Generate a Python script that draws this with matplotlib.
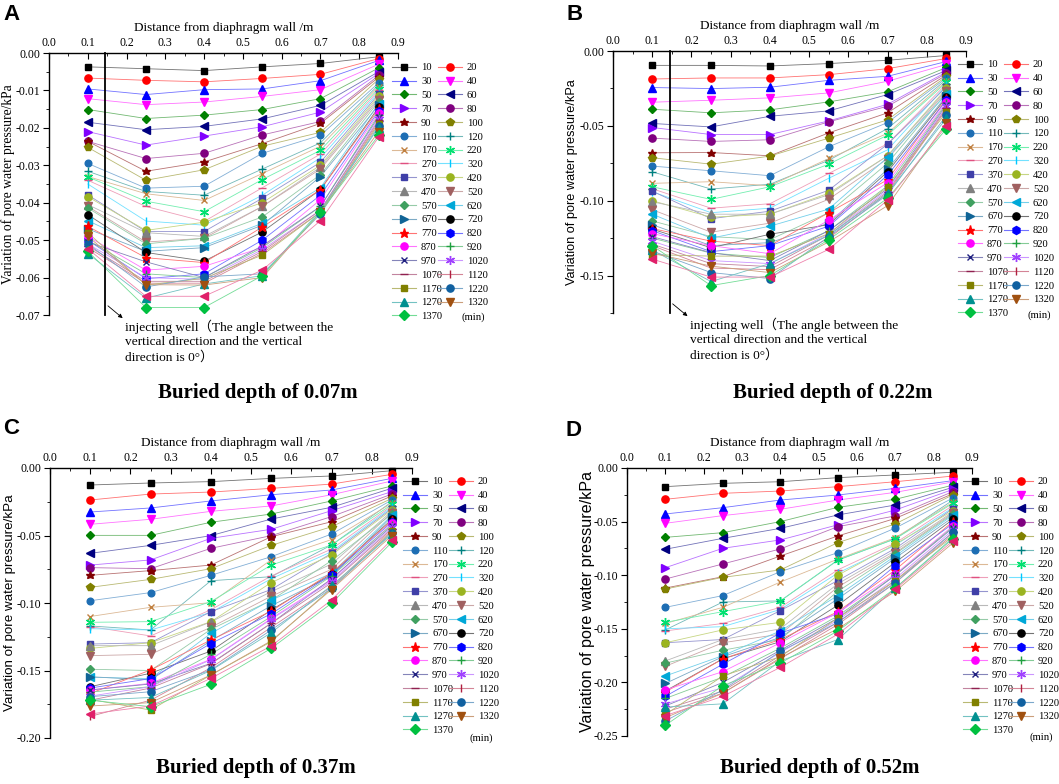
import matplotlib
matplotlib.use('Agg')
import matplotlib.pyplot as plt
from matplotlib.lines import Line2D
from matplotlib.ticker import MultipleLocator, FormatStrFormatter
from matplotlib.colors import to_rgb

plt.rcParams['axes.unicode_minus'] = False

# ---------------- data ----------------
distance = [0.1, 0.25, 0.4, 0.55, 0.7, 0.85]
times = ['10', '20', '30', '40', '50', '60', '70', '80', '90', '100', '110', '120',
         '170', '220', '270', '320', '370', '420', '470', '520', '570', '620', '670',
         '720', '770', '820', '870', '920', '970', '1020', '1070', '1120', '1170',
         '1220', '1270', '1320', '1370', '_extra']
time_unit = '(min)'

depth_07 = [
    [-0.0037, -0.0042, -0.0047, -0.0037, -0.0028, -0.0010],
    [-0.0067, -0.0073, -0.0077, -0.0068, -0.0057, -0.0015],
    [-0.0096, -0.0111, -0.0098, -0.0096, -0.0074, -0.0020],
    [-0.0122, -0.0138, -0.0131, -0.0116, -0.0098, -0.0030],
    [-0.0151, -0.0175, -0.0166, -0.0151, -0.0122, -0.0040],
    [-0.0185, -0.0205, -0.0196, -0.0176, -0.0140, -0.0050],
    [-0.0210, -0.0246, -0.0222, -0.0197, -0.0158, -0.0055],
    [-0.0236, -0.0282, -0.0268, -0.0219, -0.0183, -0.0060],
    [-0.0236, -0.0316, -0.0291, -0.0242, -0.0188, -0.0065],
    [-0.0252, -0.0340, -0.0312, -0.0249, -0.0212, -0.0070],
    [-0.0295, -0.0361, -0.0356, -0.0268, -0.0220, -0.0080],
    [-0.0316, -0.0370, -0.0380, -0.0310, -0.0240, -0.0085],
    [-0.0330, -0.0376, -0.0394, -0.0322, -0.0249, -0.0090],
    [-0.0331, -0.0396, -0.0424, -0.0338, -0.0260, -0.0095],
    [-0.0340, -0.0410, -0.0450, -0.0360, -0.0270, -0.0100],
    [-0.0350, -0.0449, -0.0460, -0.0380, -0.0280, -0.0105],
    [-0.0379, -0.0477, -0.0477, -0.0388, -0.0292, -0.0110],
    [-0.0384, -0.0474, -0.0452, -0.0400, -0.0300, -0.0115],
    [-0.0405, -0.0480, -0.0490, -0.0410, -0.0305, -0.0120],
    [-0.0410, -0.0505, -0.0495, -0.0410, -0.0310, -0.0125],
    [-0.0414, -0.0510, -0.0495, -0.0438, -0.0325, -0.0130],
    [-0.0448, -0.0520, -0.0515, -0.0455, -0.0360, -0.0135],
    [-0.0470, -0.0530, -0.0520, -0.0460, -0.0330, -0.0140],
    [-0.0432, -0.0533, -0.0556, -0.0478, -0.0365, -0.0145],
    [-0.0463, -0.0547, -0.0560, -0.0465, -0.0365, -0.0150],
    [-0.0500, -0.0603, -0.0590, -0.0500, -0.0380, -0.0155],
    [-0.0490, -0.0580, -0.0570, -0.0520, -0.0392, -0.0160],
    [-0.0500, -0.0590, -0.0600, -0.0520, -0.0410, -0.0165],
    [-0.0505, -0.0558, -0.0600, -0.0515, -0.0410, -0.0170],
    [-0.0510, -0.0600, -0.0605, -0.0525, -0.0420, -0.0175],
    [-0.0515, -0.0610, -0.0610, -0.0530, -0.0420, -0.0180],
    [-0.0520, -0.0615, -0.0615, -0.0535, -0.0425, -0.0185],
    [-0.0480, -0.0620, -0.0602, -0.0540, -0.0425, -0.0190],
    [-0.0510, -0.0625, -0.0598, -0.0590, -0.0430, -0.0195],
    [-0.0536, -0.0655, -0.0617, -0.0595, -0.0420, -0.0200],
    [-0.0490, -0.0619, -0.0620, -0.0600, -0.0425, -0.0210],
    [-0.0530, -0.0680, -0.0680, -0.0595, -0.0425, -0.0220],
    [-0.0523, -0.0650, -0.0650, -0.0580, -0.0448, -0.0225],
]

depth_22 = [
    [-0.0096, -0.0096, -0.0100, -0.0084, -0.0062, -0.0030],
    [-0.0187, -0.0180, -0.0180, -0.0158, -0.0118, -0.0050],
    [-0.0244, -0.0251, -0.0242, -0.0196, -0.0169, -0.0070],
    [-0.0342, -0.0329, -0.0313, -0.0280, -0.0202, -0.0090],
    [-0.0389, -0.0413, -0.0393, -0.0340, -0.0273, -0.0110],
    [-0.0484, -0.0507, -0.0436, -0.0400, -0.0291, -0.0130],
    [-0.0511, -0.0558, -0.0558, -0.0467, -0.0356, -0.0140],
    [-0.0582, -0.0604, -0.0593, -0.0473, -0.0369, -0.0150],
    [-0.0680, -0.0678, -0.0700, -0.0547, -0.0413, -0.0160],
    [-0.0713, -0.0756, -0.0702, -0.0582, -0.0460, -0.0170],
    [-0.0769, -0.0800, -0.0833, -0.0640, -0.0478, -0.0180],
    [-0.0807, -0.0922, -0.0890, -0.0730, -0.0518, -0.0190],
    [-0.0884, -0.0873, -0.0900, -0.0718, -0.0550, -0.0200],
    [-0.0907, -0.0991, -0.0907, -0.0756, -0.0562, -0.0210],
    [-0.0920, -0.1050, -0.1020, -0.0818, -0.0620, -0.0220],
    [-0.0940, -0.1080, -0.1050, -0.0850, -0.0660, -0.0230],
    [-0.0936, -0.1120, -0.1070, -0.0930, -0.0622, -0.0240],
    [-0.1000, -0.1110, -0.1090, -0.0950, -0.0700, -0.0250],
    [-0.1007, -0.1090, -0.1090, -0.0960, -0.0700, -0.0260],
    [-0.1060, -0.1210, -0.1150, -0.0990, -0.0720, -0.0270],
    [-0.1135, -0.1240, -0.1260, -0.1080, -0.0750, -0.0280],
    [-0.1090, -0.1250, -0.1170, -0.1056, -0.0710, -0.0290],
    [-0.1160, -0.1300, -0.1280, -0.1150, -0.0790, -0.0300],
    [-0.1190, -0.1314, -0.1224, -0.1160, -0.0807, -0.0310],
    [-0.1186, -0.1270, -0.1300, -0.1080, -0.0860, -0.0320],
    [-0.1200, -0.1340, -0.1300, -0.1170, -0.0830, -0.0330],
    [-0.1220, -0.1300, -0.1354, -0.1130, -0.0880, -0.0340],
    [-0.1250, -0.1350, -0.1380, -0.1200, -0.0900, -0.0350],
    [-0.1240, -0.1347, -0.1400, -0.1200, -0.0920, -0.0360],
    [-0.1270, -0.1400, -0.1420, -0.1220, -0.0930, -0.0370],
    [-0.1290, -0.1420, -0.1440, -0.1230, -0.0940, -0.0380],
    [-0.1300, -0.1450, -0.1460, -0.1250, -0.0950, -0.0390],
    [-0.1360, -0.1370, -0.1370, -0.1220, -0.0907, -0.0410],
    [-0.1336, -0.1480, -0.1520, -0.1240, -0.0960, -0.0430],
    [-0.1330, -0.1540, -0.1420, -0.1230, -0.0950, -0.0450],
    [-0.1350, -0.1437, -0.1480, -0.1275, -0.1033, -0.0480],
    [-0.1300, -0.1567, -0.1500, -0.1260, -0.0984, -0.0520],
    [-0.1390, -0.1510, -0.1510, -0.1325, -0.0996, -0.0500],
]

depth_37 = [
    [-0.0126, -0.0111, -0.0101, -0.0077, -0.0059, -0.0020],
    [-0.0237, -0.0193, -0.0178, -0.0151, -0.0119, -0.0047],
    [-0.0326, -0.0296, -0.0244, -0.0198, -0.0163, -0.0077],
    [-0.0417, -0.0380, -0.0321, -0.0281, -0.0198, -0.0096],
    [-0.0499, -0.0499, -0.0402, -0.0341, -0.0244, -0.0133],
    [-0.0632, -0.0573, -0.0501, -0.0378, -0.0291, -0.0150],
    [-0.0719, -0.0681, -0.0521, -0.0454, -0.0316, -0.0175],
    [-0.0738, -0.0746, -0.0595, -0.0501, -0.0360, -0.0193],
    [-0.0795, -0.0760, -0.0719, -0.0509, -0.0398, -0.0207],
    [-0.0884, -0.0825, -0.0746, -0.0573, -0.0435, -0.0225],
    [-0.0983, -0.0923, -0.0795, -0.0657, -0.0489, -0.0237],
    [-0.1170, -0.1200, -0.0835, -0.0805, -0.0570, -0.0250],
    [-0.1100, -0.1032, -0.0998, -0.0680, -0.0530, -0.0260],
    [-0.1143, -0.1138, -0.0990, -0.0719, -0.0570, -0.0270],
    [-0.1175, -0.1244, -0.1050, -0.0800, -0.0600, -0.0280],
    [-0.1190, -0.1200, -0.1070, -0.0820, -0.0620, -0.0290],
    [-0.1304, -0.1294, -0.1064, -0.0900, -0.0632, -0.0300],
    [-0.1336, -0.1294, -0.1138, -0.0849, -0.0644, -0.0310],
    [-0.1316, -0.1316, -0.1140, -0.0916, -0.0711, -0.0320],
    [-0.1390, -0.1380, -0.1180, -0.0950, -0.0750, -0.0330],
    [-0.1491, -0.1500, -0.1195, -0.0980, -0.0686, -0.0340],
    [-0.1550, -0.1560, -0.1225, -0.0978, -0.0780, -0.0350],
    [-0.1546, -0.1570, -0.1280, -0.1020, -0.0800, -0.0360],
    [-0.1620, -0.1520, -0.1356, -0.1052, -0.0785, -0.0380],
    [-0.1670, -0.1496, -0.1274, -0.1060, -0.0775, -0.0390],
    [-0.1630, -0.1560, -0.1300, -0.1080, -0.0790, -0.0400],
    [-0.1644, -0.1595, -0.1417, -0.1114, -0.0830, -0.0410],
    [-0.1660, -0.1620, -0.1380, -0.1100, -0.0800, -0.0420],
    [-0.1644, -0.1600, -0.1447, -0.1150, -0.0820, -0.0430],
    [-0.1690, -0.1620, -0.1420, -0.1120, -0.0840, -0.0440],
    [-0.1720, -0.1630, -0.1450, -0.1150, -0.0850, -0.0450],
    [-0.1840, -0.1720, -0.1480, -0.1180, -0.0880, -0.0460],
    [-0.1714, -0.1793, -0.1533, -0.1286, -0.0891, -0.0470],
    [-0.1694, -0.1657, -0.1496, -0.1200, -0.0891, -0.0480],
    [-0.1720, -0.1700, -0.1500, -0.1220, -0.0870, -0.0490],
    [-0.1763, -0.1738, -0.1533, -0.1280, -0.0900, -0.0500],
    [-0.1720, -0.1768, -0.1602, -0.1336, -0.1002, -0.0550],
    [-0.1822, -0.1763, -0.1558, -0.1318, -0.0978, -0.0530],
]

depth_52 = [
    [-0.0174, -0.0143, -0.0128, -0.0090, -0.0065, -0.0040],
    [-0.0292, -0.0236, -0.0215, -0.0174, -0.0128, -0.0075],
    [-0.0429, -0.0370, -0.0299, -0.0252, -0.0190, -0.0118],
    [-0.0516, -0.0444, -0.0385, -0.0299, -0.0227, -0.0130],
    [-0.0647, -0.0603, -0.0500, -0.0367, -0.0292, -0.0160],
    [-0.0758, -0.0656, -0.0563, -0.0438, -0.0345, -0.0180],
    [-0.0930, -0.0749, -0.0671, -0.0530, -0.0392, -0.0200],
    [-0.1036, -0.0895, -0.0755, -0.0547, -0.0447, -0.0220],
    [-0.1120, -0.1014, -0.0821, -0.0634, -0.0470, -0.0240],
    [-0.1129, -0.1020, -0.0951, -0.0696, -0.0522, -0.0250],
    [-0.1300, -0.1190, -0.0967, -0.0790, -0.0560, -0.0280],
    [-0.1510, -0.1250, -0.1240, -0.0860, -0.0660, -0.0300],
    [-0.1450, -0.1300, -0.1064, -0.0850, -0.0650, -0.0320],
    [-0.1440, -0.1340, -0.1240, -0.0858, -0.0660, -0.0330],
    [-0.1520, -0.1450, -0.1300, -0.0950, -0.0700, -0.0350],
    [-0.1500, -0.1480, -0.1320, -0.0980, -0.0720, -0.0370],
    [-0.1630, -0.1600, -0.1330, -0.1050, -0.0750, -0.0380],
    [-0.1630, -0.1510, -0.1440, -0.1000, -0.0710, -0.0400],
    [-0.1800, -0.1600, -0.1500, -0.1080, -0.0770, -0.0410],
    [-0.1850, -0.1630, -0.1550, -0.1110, -0.0790, -0.0420],
    [-0.1820, -0.1700, -0.1600, -0.1150, -0.0800, -0.0430],
    [-0.1940, -0.1750, -0.1520, -0.1190, -0.0820, -0.0440],
    [-0.2010, -0.1760, -0.1580, -0.1220, -0.0840, -0.0460],
    [-0.2080, -0.1780, -0.1620, -0.1280, -0.0880, -0.0480],
    [-0.2090, -0.1780, -0.1600, -0.1340, -0.0950, -0.0500],
    [-0.2130, -0.1830, -0.1540, -0.1360, -0.0910, -0.0520],
    [-0.2070, -0.1900, -0.1630, -0.1350, -0.0990, -0.0540],
    [-0.2150, -0.1950, -0.1680, -0.1380, -0.1000, -0.0550],
    [-0.2220, -0.2000, -0.1700, -0.1400, -0.1000, -0.0560],
    [-0.2200, -0.2050, -0.1720, -0.1420, -0.1030, -0.0580],
    [-0.2250, -0.2080, -0.1750, -0.1440, -0.1050, -0.0600],
    [-0.2280, -0.2100, -0.1780, -0.1460, -0.1070, -0.0620],
    [-0.2300, -0.1940, -0.1760, -0.1400, -0.1050, -0.0640],
    [-0.2360, -0.2070, -0.1710, -0.1440, -0.1070, -0.0600],
    [-0.2230, -0.2200, -0.1800, -0.1600, -0.1120, -0.0650],
    [-0.2330, -0.2100, -0.1770, -0.1500, -0.1150, -0.0700],
    [-0.2400, -0.2030, -0.1820, -0.1520, -0.1120, -0.0660],
    [-0.2310, -0.2130, -0.1860, -0.1550, -0.1130, -0.0680],
]

panel_letters = ['A', 'B', 'C', 'D']
panel_titles = ['Buried depth of 0.07m', 'Buried depth of 0.22m',
                'Buried depth of 0.37m', 'Buried depth of 0.52m']
panel_data = [depth_07, depth_22, depth_37, depth_52]
x_label = 'Distance from diaphragm wall /m'
y_label = 'Variation of pore water pressure/kPa'
well_note = 'injecting well\uff08The angle between the\nvertical direction and the vertical\ndirection is 0\u00b0\uff09'
well_x = 0.145

# ---------------- styles ----------------
series_styles = [
    ('#000000', 's', 4.8), ('#FF0000', 'o', 5.2), ('#0000FF', '^', 5.2), ('#FF00FF', 'v', 5.2),
    ('#008000', 'D', 4.4), ('#000080', '<', 5.2), ('#8000FF', '>', 5.2), ('#800080', 'o', 5.2),
    ('#800000', '*', 6.2), ('#808000', 'p', 5.4), ('#1E6EB4', 'o', 4.8), ('#008080', '+', 6),
    ('#C08040', 'x', 5), ('#00E070', (6, 2, 0), 6.5), ('#E05080', '_', 6), ('#00C8FF', '|', 6),
    ('#3F3FA8', 's', 4.8), ('#9AB420', 'o', 5.2), ('#808080', '^', 5.2), ('#A06060', 'v', 5.2),
    ('#40A060', 'D', 4.4), ('#00A8D8', '<', 5.2), ('#106496', '>', 5.2), ('#000000', 'o', 5.2),
    ('#FF0000', '*', 6.8), ('#0000FF', 'h', 5.8), ('#FF00FF', 'o', 5.2), ('#20A040', '+', 6),
    ('#202080', 'x', 5), ('#A040FF', (6, 2, 0), 6.5), ('#902050', '_', 6), ('#B02040', '|', 6),
    ('#808000', 's', 4.8), ('#1060A0', 'o', 5.2), ('#009090', '^', 5.2), ('#A05010', 'v', 5.2),
    ('#00C040', 'D', 5.2), ('#E0206A', '<', 5.8),
]


def lighten(c, f=0.45):
    r, g, b = to_rgb(c)
    return (r + (1 - r) * f, g + (1 - g) * f, b + (1 - b) * f)


W, H = 1059, 784
fig = plt.figure(figsize=(W / 100, H / 100), dpi=100)

# axes boxes in pixels: left, right, top, bottom
boxes = [(49, 398, 53, 315), (613, 966, 51, 313), (50, 412, 468, 738), (627, 972, 468, 736)]
ylims = [-0.07, -0.175, -0.20, -0.25]
ymajor = [0.01, 0.05, 0.05, 0.05]
ylabel_family = ['Liberation Serif', 'Liberation Sans', 'Liberation Sans', 'Liberation Sans']
ylabel_size = [9.8, 9.2, 9.6, 11.6]
ylabel_px = [15, 578, 16, 595]
legend_anchor = [(392, 63), (958, 60), (403, 477), (963, 477)]
unit_pos = [(462, 317), (1027, 315), (470, 738), (1030, 737)]
title_pos = [(258, 393), (833, 393), (256, 768), (820, 768)]
letter_pos = [(3, 15), (567, 14), (3, 428), (565, 430)]

serif = 'Liberation Serif'

for k in range(4):
    l, r, t, b = boxes[k]
    ax = fig.add_axes([l / W, 1 - b / H, (r - l) / W, (b - t) / H])
    vals = panel_data[k]
    handles = []
    for i, row in enumerate(vals):
        c, m, ms = series_styles[i]
        lc = lighten(c)
        ax.plot(distance, row, color=lc, lw=0.6, zorder=2, clip_on=False)
        ax.plot(distance, row, linestyle='none', marker=m, color=c, ms=ms,
                mew=1.0, zorder=3, clip_on=False)
        handles.append(Line2D([], [], color=lc, lw=0.8, marker=m, ms=ms,
                              mfc=c, mec=c, mew=1.0, label=times[i]))
    ax.set_xlim(0, 0.9)
    ax.set_ylim(ylims[k], 0)
    ax.spines['right'].set_visible(False)
    ax.spines['bottom'].set_visible(False)
    ax.spines['top'].set_linewidth(1.0)
    ax.spines['left'].set_linewidth(1.0)
    ax.xaxis.tick_top()
    ax.xaxis.set_label_position('top')
    ax.xaxis.set_major_locator(MultipleLocator(0.1))
    ax.xaxis.set_minor_locator(MultipleLocator(0.05))
    ax.xaxis.set_major_formatter(FormatStrFormatter('%.1f'))
    ax.yaxis.set_major_locator(MultipleLocator(ymajor[k]))
    ax.yaxis.set_minor_locator(MultipleLocator(ymajor[k] / 2))
    ax.yaxis.set_major_formatter(FormatStrFormatter('%.2f'))
    ax.tick_params(axis='x', which='both', direction='in', top=True, bottom=False,
                   labeltop=True, labelbottom=False)
    ax.tick_params(axis='x', which='major', length=4, pad=3)
    ax.tick_params(axis='x', which='minor', length=2)
    ax.tick_params(axis='y', which='major', direction='out', length=4, pad=2)
    ax.tick_params(axis='y', which='minor', direction='out', length=2)
    for lab in ax.get_xticklabels() + ax.get_yticklabels():
        lab.set_fontfamily(serif)
        lab.set_fontsize(8.5)
    ax.set_xlabel(x_label, fontfamily=serif, fontsize=9.5, labelpad=4)
    ax.set_ylabel(y_label, fontfamily=ylabel_family[k], fontsize=ylabel_size[k])
    ax.yaxis.set_label_coords((ylabel_px[k] - l) / (r - l), 0.5)

    # legend: row-wise ordering like the original (two columns)
    shown = handles[:37]
    col1 = shown[0::2]
    col2 = shown[1::2]
    lx, ly = legend_anchor[k]
    fig.legend(handles=col1 + col2, loc='upper left',
               bbox_to_anchor=(lx / W, 1 - ly / H), ncol=2, frameon=False,
               prop={'family': serif, 'size': 7.6}, handlelength=2.3,
               handletextpad=0.45, columnspacing=-0.4, labelspacing=0.42,
               borderpad=0, borderaxespad=0, numpoints=1)
    ux, uy = unit_pos[k]
    fig.text(ux / W, 1 - uy / H, time_unit, ha='left', va='center',
             fontsize=7.6, family=serif)

    # injecting well line and note (upper panels)
    if k < 2:
        yb = ylims[k]
        ax.plot([well_x, well_x], [0, yb], color='black', lw=1.3, zorder=4, clip_on=False)
        ax.annotate('', xy=(0.19, yb * 1.012), xytext=(0.152, yb * 0.965),
                    arrowprops=dict(arrowstyle='-|>', lw=0.6, color='black',
                                    mutation_scale=6, shrinkA=0, shrinkB=0),
                    annotation_clip=False)
        ax.text(0.196, yb * 1.017, well_note, ha='left', va='top', fontsize=9.6,
                family=[serif, 'Noto Sans CJK SC'], linespacing=1.25, clip_on=False)

    tx, ty = title_pos[k]
    fig.text(tx / W, 1 - ty / H, panel_titles[k], ha='center', va='center',
             fontsize=15, fontweight='bold', family=serif)
    px, py = letter_pos[k]
    fig.text(px / W, 1 - py / H, panel_letters[k], ha='left', va='center',
             fontsize=16, fontweight='bold', family='Liberation Sans')

fig.savefig('out.png', dpi=100)
